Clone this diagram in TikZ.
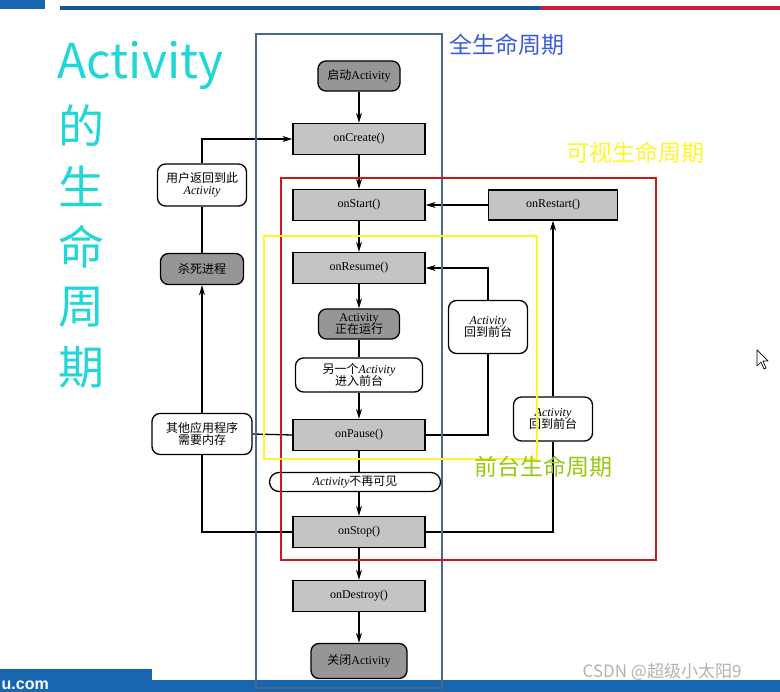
\documentclass[tikz,border=0pt]{standalone}
\usepackage{fontspec}
\setmainfont{Liberation Serif}
\newfontfamily\cjk{Noto Sans CJK SC}
\newfontfamily\sansfam{Liberation Sans}
\usetikzlibrary{arrows.meta}
\definecolor{titlecyan}{RGB}{32,214,214}
\definecolor{fullblue}{RGB}{60,92,215}
\definecolor{slateframe}{RGB}{75,105,135}
\definecolor{visred}{RGB}{210,20,30}
\definecolor{fgyellow}{RGB}{255,245,40}
\definecolor{fggreen}{RGB}{150,200,20}
\definecolor{procgray}{RGB}{196,196,196}
\definecolor{termgray}{RGB}{150,150,150}
\definecolor{barblue}{RGB}{24,102,176}
\definecolor{barred}{RGB}{200,30,60}
\newcommand\zh[1]{{\cjk #1}}

\begin{document}
\begin{tikzpicture}[x=1pt,y=-1pt,line width=1.3pt,
    every node/.style={font=\fontsize{12}{14}\selectfont},
    proc/.style={draw,fill=procgray,minimum width=132pt,minimum height=31pt,inner sep=1pt},
    term/.style={draw,fill=termgray,rounded corners=8pt,inner sep=1pt,align=center},
    note/.style={draw,fill=white,rounded corners=8pt,inner sep=1pt,align=center},
    arr/.style={-{Stealth[length=10pt,width=6pt]}},
    biglbl/.style={anchor=west,inner sep=0pt,font=\cjk\fontsize{23}{23}\selectfont}]
    \useasboundingbox (0,0) rectangle (780,692);
    % slide decoration
    \fill[barblue] (0,0) rectangle (45,9);
    \fill[barblue!85!black] (60,6.5) rectangle (541,10);
    \fill[barred] (541,6.5) rectangle (780,10);
    \fill[barblue] (0,669) rectangle (152,692);
    \fill[barblue] (152,680) rectangle (780,692);
    \node[anchor=west,inner sep=0pt,text=white,font=\sansfam\bfseries\fontsize{16}{16}\selectfont] (site) at (1,685) {u.com};
    \node[anchor=west,inner sep=0pt,text=gray!60,font=\cjk\fontsize{17}{17}\selectfont] (mark) at (582,672) {CSDN @超级小太阳9};
    % title
    \node[anchor=west,inner sep=0pt,text=titlecyan,font=\cjk\fontsize{48}{48}\selectfont] (title) at (57,66) {Activity};
    \foreach \ch [count=\i] in {的,生,命,周,期}
        \node[inner sep=0pt,text=titlecyan,font=\cjk\fontsize{46}{46}\selectfont] (t\i) at (81,65+60.5*\i) {\ch};
    % main chain
    \node[term,minimum width=82pt,minimum height=30pt] (launch) at (359,76) {\zh{启动}Activity};
    \node[proc] (create) at (359,139) {onCreate()};
    \node[proc] (start) at (359,205) {onStart()};
    \node[proc] (resume) at (359,268) {onResume()};
    \node[term,minimum width=81pt,minimum height=30pt] (running) at (359,324) {Activity\\[-2pt]\zh{正在运行}};
    \node[note,minimum width=127pt,minimum height=34pt] (another) at (359,375) {\zh{另一个}\textit{Activity}\\[-2pt]\zh{进入前台}};
    \node[proc] (pause) at (359,435) {onPause()};
    \node[note,rounded corners=9.5pt,minimum width=171pt,minimum height=19pt] (notseen) at (355,482) {\textit{Activity}\zh{不再可见}};
    \node[proc] (stop) at (359,532) {onStop()};
    \node[proc] (destroy) at (359,596) {onDestroy()};
    \node[term,minimum width=96pt,minimum height=35pt] (close) at (359,661) {\zh{关闭}Activity};
    \node[proc,minimum width=129pt,minimum height=30pt] (restart) at (553,205) {onRestart()};
    % side nodes
    \node[note,minimum width=89pt,minimum height=42pt] (user) at (202,185) {\zh{用户返回到此}\\[-2pt]\textit{Activity}};
    \node[term,minimum width=83pt,minimum height=31pt] (kill) at (202,269) {\zh{杀死进程}};
    \node[note,minimum width=100pt,minimum height=41pt] (other) at (202,434) {\zh{其他应用程序}\\[-2pt]\zh{需要内存}};
    \node[note,minimum width=79pt,minimum height=53pt] (back1) at (488,327) {\textit{Activity}\\[-2pt]\zh{回到前台}};
    \node[note,minimum width=79pt,minimum height=44pt] (back2) at (553,419) {\textit{Activity}\\[-2pt]\zh{回到前台}};
    % connectors
    \draw[arr] (launch) -- (create);
    \draw[arr] (create) -- (start);
    \draw[arr] (start) -- (resume);
    \draw[arr] (resume) -- (running);
    \draw (running) -- (another);
    \draw[arr] (another) -- (pause);
    \draw (pause) -- (pause |- notseen.north);
    \draw[arr] (stop |- notseen.south) -- (stop);
    \draw[arr] (stop) -- (destroy);
    \draw[arr] (destroy) -- (close);
    \draw[arr] (restart) -- (start);
    \draw (pause.east) -| (back1.south);
    \draw[arr] (back1.north) |- (resume.east);
    \draw (stop.east) -| (back2.south);
    \draw[arr] (back2.north) -- (restart.south);
    \draw (pause.west) -- (other.east);
    \draw (stop.west) -| (other.south);
    \draw[arr] (other.north) -- (kill.south);
    \draw (kill.north) -- (user.south);
    \draw[arr] (user.north) |- (create.west);
    % lifetime frames
    \draw[slateframe,line width=1.8pt] (256,34) rectangle (442,688);
    \draw[visred,line width=1.8pt] (281,178) rectangle (656,560);
    \draw[fgyellow,line width=1.8pt] (264,236) rectangle (537,459);
    \node[biglbl,text=fullblue] (fulllbl) at (449,45) {全生命周期};
    \node[biglbl,text=fgyellow] (vislbl) at (566,153) {可视生命周期};
    \node[biglbl,text=fggreen] (fglbl) at (474,467) {前台生命周期};
    % cursor
    \draw[line width=0.7pt,fill=white,line join=round] (757,350) -- (757,366) -- (761,362) -- (764,369) -- (766,368) -- (763,361) -- (768,361) -- cycle;
\end{tikzpicture}
\end{document}
